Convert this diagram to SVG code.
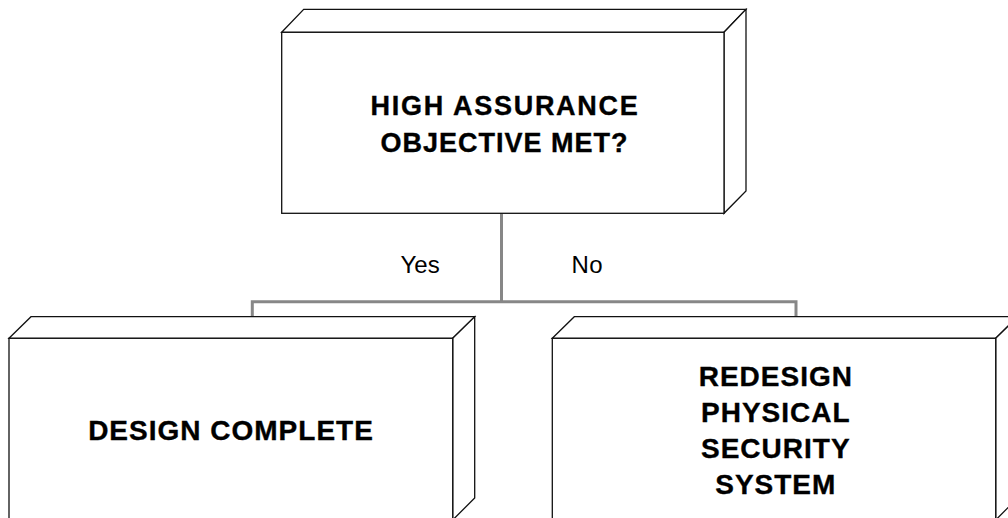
<svg xmlns="http://www.w3.org/2000/svg" width="1008" height="518" viewBox="0 0 1008 518">
  <style>
    .face { fill: #ffffff; stroke: #111111; stroke-width: 1.3; stroke-linejoin: miter; }
    .wire { fill: none; stroke: #878787; stroke-width: 3; }
    .title { font-family: "Liberation Sans", Arial, sans-serif; font-weight: bold; fill: #000000; stroke: #000000; stroke-width: 0.35; text-anchor: middle; }
    .big { font-size: 28px; letter-spacing: 1px; }
    .head { font-size: 27px; }
    .branch { font-family: "Liberation Sans", Arial, sans-serif; font-size: 24px; fill: #000000; }
  </style>
  <rect width="1008" height="518" fill="#ffffff"/>

  <!-- connectors -->
  <g id="connectors">
    <path class="wire" d="M501.5 213.5 V301.7"/>
    <path class="wire" d="M252.3 316.7 V301.7 H796 V316.7"/>
    <text class="branch" x="400.5" y="272.7">Yes</text>
    <text class="branch" x="571.5" y="272.7" letter-spacing="0.5">No</text>
  </g>

  <!-- decision box -->
  <g id="node-decision">
    <polygon class="face" points="281.7,32.3 303.7,9.3 746,9.3 724,32.3"/>
    <polygon class="face" points="724,32.3 746,9.3 746,191 724,213.3"/>
    <rect class="face" x="281.7" y="32.3" width="442.3" height="181"/>
    <text class="title head" x="505" y="115" letter-spacing="1.7">HIGH ASSURANCE</text>
    <text class="title head" x="504.5" y="151.7" letter-spacing="1">OBJECTIVE MET?</text>
  </g>

  <!-- yes outcome -->
  <g id="node-complete">
    <polygon class="face" points="9,338.3 31,316.7 474.7,316.7 452.7,338.3"/>
    <polygon class="face" points="452.7,338.3 474.7,316.7 474.7,498 452.7,520"/>
    <rect class="face" x="9" y="338.3" width="443.7" height="182"/>
    <text class="title big" x="231" y="439.5">DESIGN COMPLETE</text>
  </g>

  <!-- no outcome -->
  <g id="node-redesign">
    <polygon class="face" points="552.3,338.3 574.3,316.7 1017.7,316.7 995.7,338.3"/>
    <polygon class="face" points="995.7,338.3 1017.7,316.7 1017.7,498 995.7,520"/>
    <rect class="face" x="552.3" y="338.3" width="443.4" height="182"/>
    <text class="title big" x="775.8" y="386">REDESIGN</text>
    <text class="title big" x="775.8" y="421.7">PHYSICAL</text>
    <text class="title big" x="775.8" y="458.3">SECURITY</text>
    <text class="title big" x="775.8" y="494">SYSTEM</text>
  </g>
</svg>
